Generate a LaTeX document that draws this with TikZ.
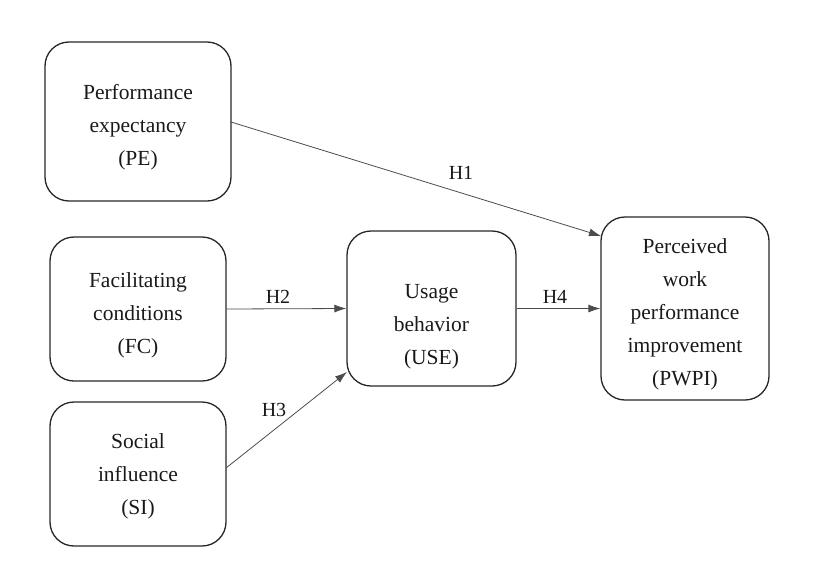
\documentclass[tikz,border=0pt]{standalone}
\usepackage{fontspec}
\setmainfont{Liberation Serif}
\usetikzlibrary{arrows.meta}
\begin{document}
\begin{tikzpicture}[x=1pt,y=-1pt,
  box/.style={draw=black!85,line width=1.3pt,rounded corners=24pt,inner sep=0pt},
  txt/.style={align=center,font=\fontsize{21.5}{33}\selectfont,text=black!90,inner sep=0pt},
  conn/.style={draw=black!70,line width=0.8pt,-{Latex[length=12pt,width=8pt]}},
  lbl/.style={font=\fontsize{20}{22}\selectfont,text=black!90}]
\useasboundingbox (0,0) rectangle (832,565);
\node[box,minimum width=186pt,minimum height=159pt] (pe) at (138,121.5) {};
\node[box,minimum width=176pt,minimum height=144pt] (fc) at (138,309) {};
\node[box,minimum width=176pt,minimum height=144pt] (si) at (138,474) {};
\node[box,minimum width=169pt,minimum height=155pt] (use) at (431.5,308.5) {};
\node[box,minimum width=168pt,minimum height=183pt] (pwpi) at (685,308.5) {};
\node[txt] (pet) at ([yshift=-6pt]pe.center) {Performance\\expectancy\\(PE)};
\node[txt] (fct) at ([yshift=-6pt]fc.center) {Facilitating\\conditions\\(FC)};
\node[txt] (sit) at ([yshift=-2pt]si.center) {Social\\influence\\(SI)};
\node[txt] (uset) at ([yshift=-18pt]use.center) {Usage\\behavior\\(USE)};
\node[txt] (pwpit) at ([yshift=-6pt]pwpi.center) {Perceived\\work\\performance\\improvement\\(PWPI)};
\coordinate (peo) at (231,122);
\coordinate (pwin) at (601,236);
\coordinate (sio) at (226,468);
\coordinate (usein) at (347,372);
\draw[conn] (peo) -- (pwin);
\draw[conn] (fc.east) -- (use.west);
\draw[conn] (sio) -- (usein);
\draw[conn] (use.east) -- (pwpi.west);
\node[lbl] (h1) at (461,173) {H1};
\node[lbl] (h2) at (278,297) {H2};
\node[lbl] (h3) at (274,410) {H3};
\node[lbl] (h4) at (555,297) {H4};
\end{tikzpicture}
\end{document}
